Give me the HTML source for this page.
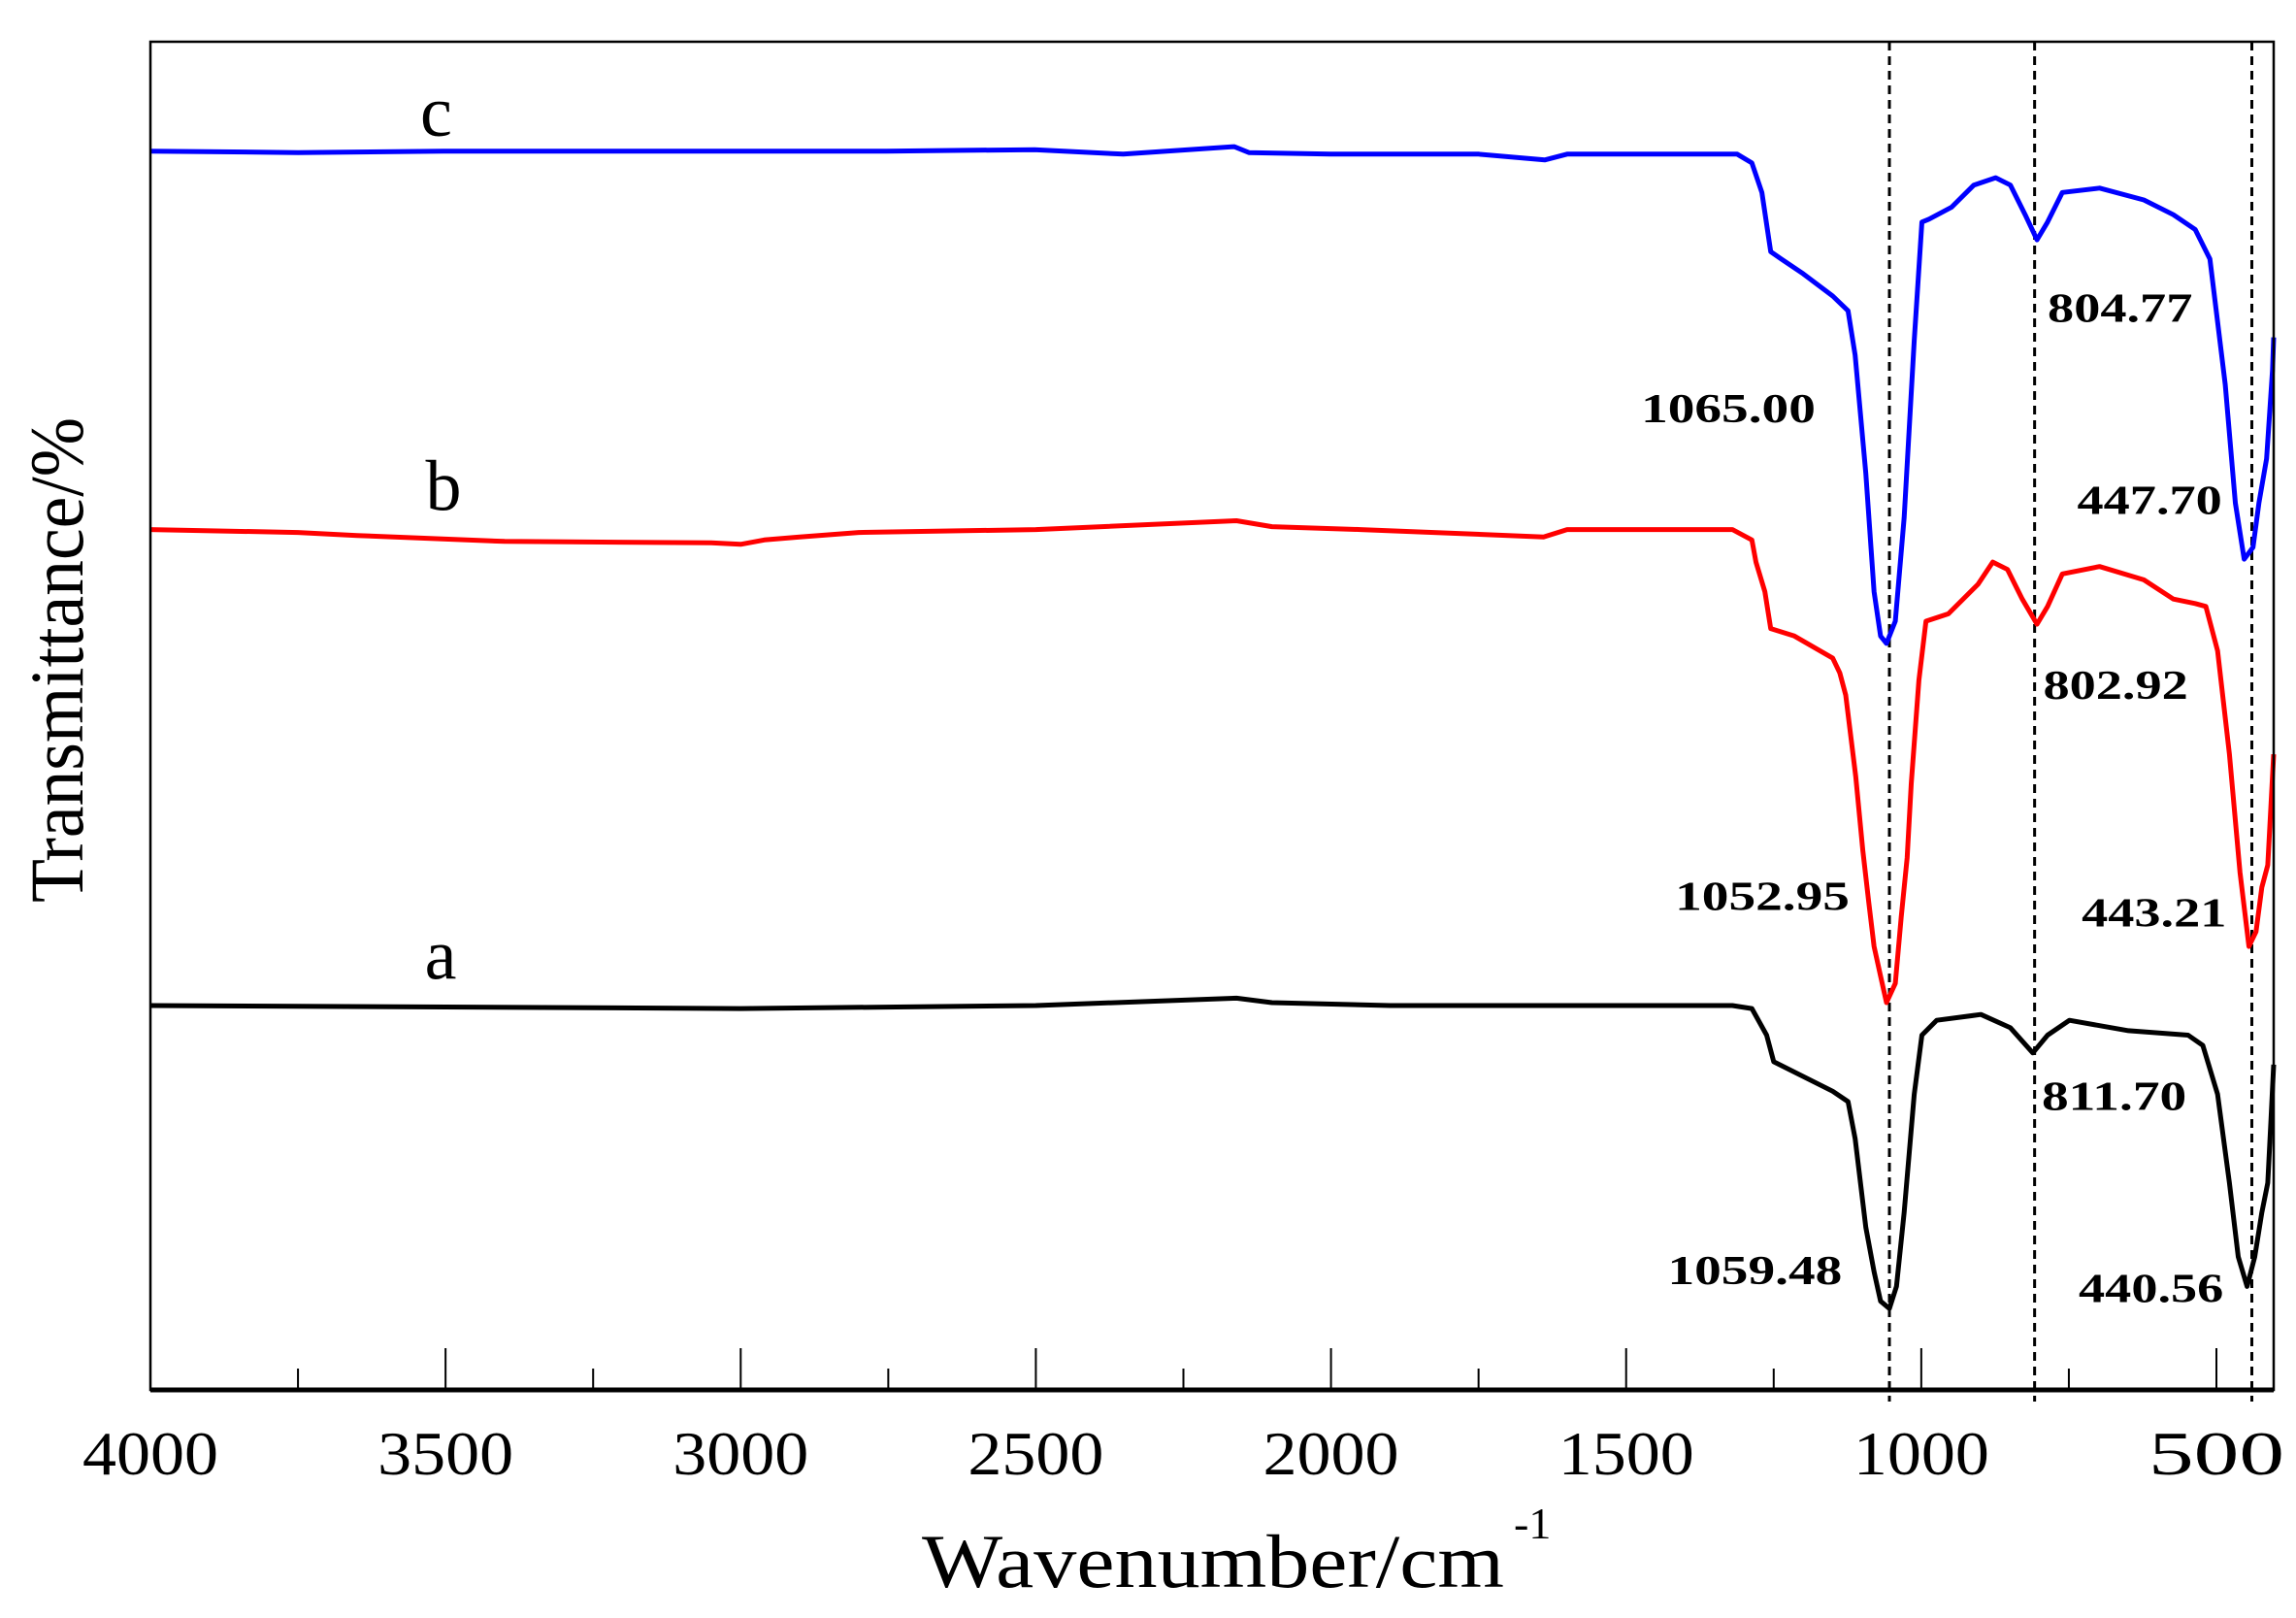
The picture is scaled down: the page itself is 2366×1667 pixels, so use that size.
<!DOCTYPE html>
<html><head><meta charset="utf-8"><style>
html,body{margin:0;padding:0;background:#fff;}
svg{display:block;}
text{font-family:"Liberation Serif",serif;fill:#000;}
</style></head><body>
<svg id="chart" width="2366" height="1667" viewBox="0 0 2366 1667" xmlns="http://www.w3.org/2000/svg">
<g id="plot"></g>
</svg>
<script>
const xTicks = [4000,3500,3000,2500,2000,1500,1000,500];
const minorTicks = [3750,3250,2750,2250,1750,1250,750];
const refLines = [1054,808,440];
const wnC = [4000,3750,3504,2753,2502,2352,2164,2139,2001,1750,1638,1600,1312,1287,1270,1255,1237,1200,1150,1124,1112,1094,1080,1069,1059,1044,1029,1012,999,987,949,911,874,849,824,804,786,761,698,623,573,536,511,485,468,453,438,428,415,405,403];
const tC = [838,837,838,838,839,836,841,837,836,836,832,836,836,830,810,770,765,755,740,730,700,620,540,510,505,520,590,710,790,792,800,815,820,815,795,778,790,810,813,805,795,785,765,680,600,562,570,600,630,690,712];
const wnB = [4000,3750,3650,3400,3050,3000,2960,2900,2800,2500,2160,2100,1950,1640,1600,1320,1287,1280,1265,1255,1215,1150,1138,1128,1111,1099,1089,1080,1069,1059,1044,1034,1024,1017,1004,992,954,904,879,854,829,804,786,761,698,623,573,536,518,498,478,460,445,433,423,413,403];
const tB = [582,580,578,574,573,572,575,577,580,582,588,584,582,577,582,582,575,560,540,515,510,495,485,470,415,365,330,300,280,262,275,320,360,410,480,520,525,545,560,555,535,518,530,552,557,548,535,532,530,500,430,350,300,310,340,355,430];
const wnA = [4000,3500,3000,2500,2160,2100,1900,1320,1287,1262,1250,1150,1124,1112,1094,1080,1069,1054,1042,1029,1012,999,974,899,849,811,786,749,649,548,523,498,478,463,448,435,423,413,408,403];
const tA = [260,259,258,260,265,262,260,260,258,240,222,202,195,170,110,80,60,55,70,120,200,240,250,254,245,228,240,250,243,240,233,200,140,90,70,90,120,140,180,220];
const peakLabels = ["1065.00","804.77","447.70","1052.95","802.92","443.21","1059.48","811.70","440.56"];

const L=155,R=2343,T=43,B=1432;
const X = wn => L + (4000-wn)*(2284-155)/3500;
const Y = t => B - t*(B-T)/912;
const g = document.getElementById('plot');
const NS='http://www.w3.org/2000/svg';
function mk(tag, attrs){const e=document.createElementNS(NS,tag);for(const k in attrs)e.setAttribute(k,attrs[k]);g.appendChild(e);return e;}

refLines.forEach(w=>{
  const e=mk('line',{x1:X(w),x2:X(w),y1:T,y2:B+12,stroke:'#000','stroke-width':3,'stroke-dasharray':'9,6'});
  
  
});
function series(wn,t,color,name){
  const pts=wn.map((w,i)=>X(w).toFixed(1)+','+Y(t[i]).toFixed(1)).join(' ');
  const e=mk('polyline',{points:pts,fill:'none',stroke:color,'stroke-width':5,'stroke-linejoin':'round'});
  
  
}
series(wnC,tC,'#0000ff','series-c');
series(wnB,tB,'#ff0000','series-b');
series(wnA,tA,'#000000','series-a');
const fr=mk('rect',{x:L,y:T,width:R-L,height:B-T,fill:'none',stroke:'#000','stroke-width':2.5});


const ax=mk('line',{x1:L,x2:R,y1:B,y2:B,stroke:'#000','stroke-width':5});


xTicks.forEach(w=>{
  const tk=mk('line',{x1:X(w),x2:X(w),y1:B,y2:B-43,stroke:'#000','stroke-width':2});
  
  
  const lb=mk('text',{x:X(w),y:B+87,'font-size':64,'text-anchor':'middle',textLength:140,lengthAdjust:'spacingAndGlyphs'});
  lb.textContent=String(w);
  
  
});
minorTicks.forEach(w=>{
  const tk=mk('line',{x1:X(w),x2:X(w),y1:B,y2:B-22,stroke:'#000','stroke-width':2});
  
  
});
const lp=[[1110,275],[1385,207],[1405,337],[1133,605],[1382,462],[1408,616],[1128,858],[1381,740],[1406,870]];
peakLabels.forEach((s,i)=>{
  const [dx,dy]=lp[i];
  const w = s.length===7?118:98;
  const e=mk('text',{x:dx*1.5235,y:dy*1.5235+16,'font-size':42,'font-weight':'bold',textLength:w*1.5235,lengthAdjust:'spacingAndGlyphs'});
  e.textContent=s;
  
  
});
[['c',295,92],['b',300,345],['a',298,662]].forEach(([s,x,y])=>{
  const e=mk('text',{x:x*1.5235,y:y*1.5235,'font-size':74,'text-anchor':'middle'});
  e.textContent=s;
  
  
});
const xt=mk('text',{x:1250,y:1635,'font-size':78,'text-anchor':'middle',textLength:600,lengthAdjust:'spacingAndGlyphs'});
xt.textContent='Wavenumber/cm';


const sup=mk('text',{x:1560,y:1585,'font-size':46});
sup.textContent='-1';


const yt=mk('text',{x:0,y:0,'font-size':78,'text-anchor':'middle',textLength:500,lengthAdjust:'spacingAndGlyphs',transform:'translate(85,680) rotate(-90)'});
yt.textContent='Transmittance/%';


</script>
</body></html>
